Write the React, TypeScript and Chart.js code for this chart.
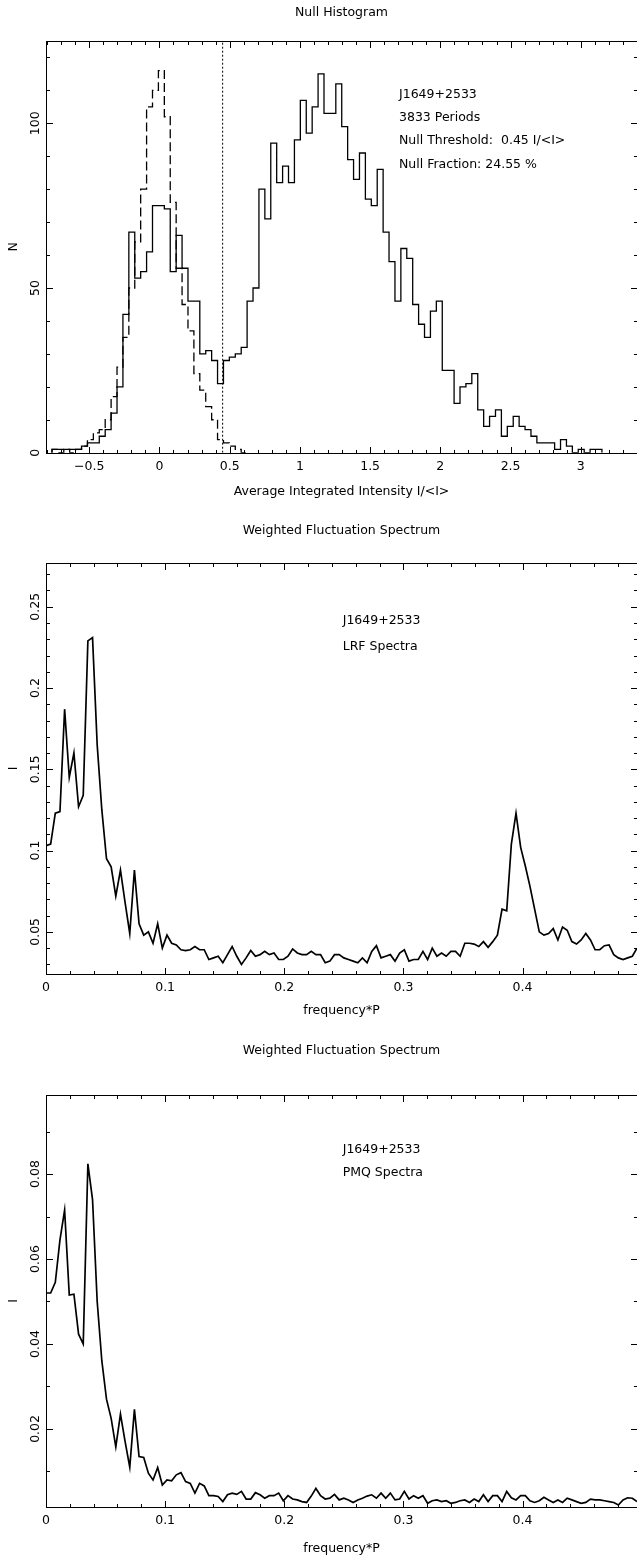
import { useEffect, useRef } from "react";
import { Chart, registerables } from "chart.js";

Chart.register(...registerables);

// ---------- Null histogram ----------
const HIST_START = -0.765;
const HIST_BIN = 0.0421;
const NULL_THRESHOLD = 0.45;
// on-pulse energy histogram (counts per bin)
const onCounts = [
  1, 1, 1, 1, 1, 2, 3, 3, 5, 7, 12, 20, 42, 67, 53, 55, 61, 75, 75, 74,
  55, 66, 56, 46, 46, 30, 31, 28, 21, 28, 29, 30, 32, 46, 50, 80, 71, 94, 82, 87,
  82, 95, 107, 97, 105, 115, 103, 103, 112, 99, 89, 83, 91, 77, 75, 86, 67, 58, 46, 62,
  59, 45, 39, 35, 43, 46, 25, 25, 15, 20, 21, 24, 13, 8, 11, 13, 5, 8, 11, 8,
  7, 5, 3, 3, 3, 1, 4, 2, 0, 1, 0, 1, 1,
];
// off-pulse energy histogram (counts per bin)
const offCounts = [
  1, 0, 1, 0, 1, 2, 4, 6, 7, 10, 17, 26, 35, 50, 64, 80, 105, 110, 116, 102,
  76, 56, 45, 37, 24, 19, 14, 10, 4, 3, 2, 1, 0,
];
const histXTicks = [-0.5, 0, 0.5, 1, 1.5, 2, 2.5, 3];
const histYTicks = [0, 50, 100];
const histNotes = ["J1649+2533", "3833 Periods", "Null Threshold:  0.45 I/<I>", "Null Fraction: 24.55 %"];

// ---------- Fluctuation spectra ----------
const FREQ_STEP = 1 / 256;
const lrfPower = [
  0.103, 0.104, 0.123, 0.124, 0.187, 0.145, 0.160, 0.127, 0.134, 0.229,
  0.231, 0.165, 0.125, 0.095, 0.090, 0.072, 0.088, 0.068, 0.049, 0.088,
  0.055, 0.048, 0.050, 0.043, 0.055, 0.040, 0.048, 0.043, 0.042, 0.039,
  0.0385, 0.039, 0.041, 0.039, 0.039, 0.033, 0.034, 0.035, 0.031, 0.036,
  0.041, 0.035, 0.030, 0.034, 0.0385, 0.035, 0.036, 0.038, 0.036, 0.037,
  0.033, 0.033, 0.035, 0.0395, 0.037, 0.036, 0.036, 0.038, 0.036, 0.036,
  0.031, 0.032, 0.036, 0.036, 0.034, 0.033, 0.032, 0.031, 0.034, 0.031,
  0.038, 0.0415, 0.034, 0.035, 0.036, 0.032, 0.037, 0.039, 0.032, 0.033,
  0.033, 0.038, 0.033, 0.040, 0.035, 0.037, 0.035, 0.038, 0.038, 0.035,
  0.043, 0.043, 0.0425, 0.041, 0.044, 0.0405, 0.044, 0.048, 0.064, 0.063,
  0.104, 0.123, 0.102, 0.0905, 0.078, 0.064, 0.050, 0.048, 0.049, 0.052,
  0.045, 0.053, 0.051, 0.044, 0.0425, 0.045, 0.049, 0.045, 0.039, 0.039,
  0.0415, 0.042, 0.036, 0.034, 0.033, 0.034, 0.035, 0.040,
];
const pmqPower = [
  0.052, 0.052, 0.0545, 0.0645, 0.0715, 0.0515, 0.0517, 0.0423, 0.040, 0.0824,
  0.074, 0.050, 0.036, 0.027, 0.0225, 0.0158, 0.0235, 0.017, 0.011, 0.0246,
  0.0135, 0.0133, 0.0096, 0.008, 0.0109, 0.0068, 0.008, 0.0078, 0.0092, 0.0097,
  0.0076, 0.0072, 0.0049, 0.0072, 0.0066, 0.0043, 0.0043, 0.0041, 0.0029, 0.0045,
  0.0049, 0.0046, 0.0053, 0.0035, 0.0035, 0.005, 0.0045, 0.0037, 0.0043, 0.0043,
  0.0049, 0.0031, 0.0043, 0.0035, 0.0033, 0.0029, 0.0027, 0.0042, 0.006, 0.0043,
  0.0035, 0.0037, 0.0046, 0.0033, 0.0037, 0.0033, 0.0027, 0.0033, 0.0037, 0.0042,
  0.0045, 0.0037, 0.0049, 0.0037, 0.0049, 0.0033, 0.0035, 0.0053, 0.0035, 0.0043,
  0.0037, 0.0043, 0.0025, 0.0031, 0.0033, 0.0029, 0.0031, 0.0025, 0.0027, 0.0031,
  0.0033, 0.0027, 0.0035, 0.0029, 0.0045, 0.0029, 0.0043, 0.0043, 0.0029, 0.0053,
  0.0038, 0.0033, 0.0043, 0.0043, 0.0031, 0.0027, 0.0031, 0.0039, 0.0033, 0.0027,
  0.0033, 0.0027, 0.0037, 0.0033, 0.0029, 0.0025, 0.0027, 0.0035, 0.0033, 0.0033,
  0.0031, 0.0029, 0.0027, 0.0021, 0.0033, 0.0038, 0.0037, 0.0029,
];
const freqTicks = [0, 0.1, 0.2, 0.3, 0.4];
const lrfYTicks = [0.05, 0.1, 0.15, 0.2, 0.25];
const pmqYTicks = [0.02, 0.04, 0.06, 0.08];
const lrfNotes = ["J1649+2533", "LRF Spectra"];
const pmqNotes = ["J1649+2533", "PMQ Spectra"];

const FONT = '12.5px "DejaVu Sans", sans-serif';
const PAGE_W = 637;

type Pt = { x: number; y: number };

function histogramPath(counts: number[]): Pt[] {
  const pts: Pt[] = [{ x: HIST_START, y: 0 }];
  counts.forEach((n, i) => pts.push({ x: HIST_START + i * HIST_BIN, y: n }));
  const end = HIST_START + counts.length * HIST_BIN;
  pts.push({ x: end, y: counts[counts.length - 1] });
  pts.push({ x: end, y: 0 });
  return pts;
}

function spectrumPath(values: number[]): Pt[] {
  return values.map((v, k) => ({ x: k * FREQ_STEP, y: v }));
}

function fmt(v: number): string {
  const s = String(Math.round(v * 1000) / 1000);
  return s.replace("-", "\u2212");
}

interface Panel {
  canvasTop: number;
  canvasHeight: number;
  area: { left: number; top: number; bottom: number }; // page coordinates
  x: { min: number; max: number; major: number; minor: number; labels: number[] };
  y: { min: number; max: number; major: number; minor: number; labels: number[] };
  title: string;
  titleY: number;
  xTitle: string;
  xTitleY: number;
  yTitle: string;
  notes: string[];
  notesX: number;
  notesY: number[];
  datasets: any[];
}

const panels: Panel[] = [
  {
    canvasTop: 0,
    canvasHeight: 515,
    area: { left: 46, top: 41, bottom: 452.7 },
    x: { min: -0.8075, max: 3.4, major: 0.5, minor: 0.1, labels: histXTicks },
    y: { min: 0, max: 125, major: 50, minor: 10, labels: histYTicks },
    title: "Null Histogram",
    titleY: 16,
    xTitle: "Average Integrated Intensity I/<I>",
    xTitleY: 495,
    yTitle: "N",
    notes: histNotes,
    notesX: 399,
    notesY: [97.7, 121, 144.3, 167.7],
    datasets: [
      {
        data: histogramPath(onCounts),
        stepped: true,
        borderColor: "#000",
        borderWidth: 1.3,
      },
      {
        data: histogramPath(offCounts),
        stepped: true,
        borderColor: "#000",
        borderWidth: 1.3,
        borderDash: [9, 4],
      },
      {
        data: [
          { x: NULL_THRESHOLD, y: 0 },
          { x: NULL_THRESHOLD, y: 125 },
        ],
        borderColor: "#000",
        borderWidth: 1,
        borderDash: [2, 2],
      },
    ],
  },
  {
    canvasTop: 515,
    canvasHeight: 520,
    area: { left: 46, top: 562.7, bottom: 974.3 },
    x: { min: 0, max: 127 * FREQ_STEP, major: 0.1, minor: 0.02, labels: freqTicks },
    y: { min: 0.0239, max: 0.2771, major: 0.05, minor: 0.01, labels: lrfYTicks },
    title: "Weighted Fluctuation Spectrum",
    titleY: 534,
    xTitle: "frequency*P",
    xTitleY: 1014,
    yTitle: "I",
    notes: lrfNotes,
    notesX: 342.7,
    notesY: [624.3, 650],
    datasets: [
      {
        data: spectrumPath(lrfPower),
        borderColor: "#000",
        borderWidth: 1.7,
      },
    ],
  },
  {
    canvasTop: 1035,
    canvasHeight: 526,
    area: { left: 46, top: 1095, bottom: 1506.7 },
    x: { min: 0, max: 127 * FREQ_STEP, major: 0.1, minor: 0.02, labels: freqTicks },
    y: { min: 0.0017, max: 0.0986, major: 0.02, minor: 0.01, labels: pmqYTicks },
    title: "Weighted Fluctuation Spectrum",
    titleY: 1054,
    xTitle: "frequency*P",
    xTitleY: 1552,
    yTitle: "I",
    notes: pmqNotes,
    notesX: 342.7,
    notesY: [1152.7, 1176],
    datasets: [
      {
        data: spectrumPath(pmqPower),
        borderColor: "#000",
        borderWidth: 1.7,
      },
    ],
  },
];

function tickValues(min: number, max: number, step: number): number[] {
  const out: number[] = [];
  for (let i = Math.ceil(min / step - 1e-9); i * step <= max + 1e-9; i++) out.push(i * step);
  return out;
}

function isMajor(v: number, major: number): boolean {
  const r = v / major;
  return Math.abs(r - Math.round(r)) < 1e-6;
}

function framePlugin(p: Panel) {
  return {
    id: "pgFrame",
    afterDraw(chart: any) {
      const { ctx, chartArea } = chart;
      const xs = chart.scales.x;
      const ys = chart.scales.y;
      const L = Math.round(chartArea.left) + 0.5;
      const R = Math.round(chartArea.right) + 0.5;
      const T = Math.round(chartArea.top) + 0.5;
      const B = Math.round(chartArea.bottom) + 0.5;
      const off = p.canvasTop;
      ctx.save();
      ctx.strokeStyle = "#000";
      ctx.lineWidth = 1;
      ctx.setLineDash([]);
      ctx.strokeRect(L, T, R - L, B - T);

      ctx.beginPath();
      for (const v of tickValues(p.x.min, p.x.max, p.x.minor)) {
        const px = Math.round(xs.getPixelForValue(v)) + 0.5;
        const len = isMajor(v, p.x.major) ? 6.5 : 3.5;
        ctx.moveTo(px, B);
        ctx.lineTo(px, B - len);
        ctx.moveTo(px, T);
        ctx.lineTo(px, T + len);
      }
      for (const v of tickValues(p.y.min, p.y.max, p.y.minor)) {
        const py = Math.round(ys.getPixelForValue(v)) + 0.5;
        const len = isMajor(v, p.y.major) ? 6.5 : 3.5;
        ctx.moveTo(L, py);
        ctx.lineTo(L + len, py);
        ctx.moveTo(R, py);
        ctx.lineTo(R - len, py);
      }
      ctx.stroke();

      ctx.fillStyle = "#000";
      ctx.font = FONT;
      // x tick labels
      ctx.textAlign = "center";
      ctx.textBaseline = "alphabetic";
      for (const v of p.x.labels) {
        ctx.fillText(fmt(v), xs.getPixelForValue(v), chartArea.bottom + 16.8);
      }
      // y tick labels, rotated
      for (const v of p.y.labels) {
        ctx.save();
        ctx.translate(39.3, ys.getPixelForValue(v));
        ctx.rotate(-Math.PI / 2);
        ctx.textAlign = "center";
        ctx.fillText(fmt(v), 0, 0);
        ctx.restore();
      }
      const midX = (chartArea.left + chartArea.right) / 2;
      ctx.fillText(p.title, midX, p.titleY - off);
      ctx.fillText(p.xTitle, midX, p.xTitleY - off);
      ctx.save();
      ctx.translate(17, (chartArea.top + chartArea.bottom) / 2);
      ctx.rotate(-Math.PI / 2);
      ctx.textAlign = "center";
      ctx.fillText(p.yTitle, 0, 0);
      ctx.restore();

      ctx.textAlign = "left";
      p.notes.forEach((line, i) => ctx.fillText(line, p.notesX, p.notesY[i] - off));
      ctx.restore();
    },
  };
}

function PanelChart({ panel }: { panel: Panel }) {
  const ref = useRef<HTMLCanvasElement | null>(null);
  useEffect(() => {
    if (!ref.current) return;
    const padTop = panel.area.top - panel.canvasTop;
    const padBottom = panel.canvasTop + panel.canvasHeight - panel.area.bottom;
    const chart = new Chart(ref.current, {
      type: "line",
      data: { datasets: panel.datasets.map((d) => ({ ...d, pointRadius: 0, fill: false, tension: 0 })) },
      options: {
        responsive: false,
        maintainAspectRatio: false,
        animation: false,
        events: [],
        parsing: false,
        layout: { padding: { left: panel.area.left, right: 0, top: padTop, bottom: padBottom } },
        plugins: { legend: { display: false }, tooltip: { enabled: false }, title: { display: false } },
        scales: {
          x: { type: "linear", min: panel.x.min, max: panel.x.max, display: false },
          y: { type: "linear", min: panel.y.min, max: panel.y.max, display: false },
        },
      } as any,
      plugins: [framePlugin(panel)],
    });
    return () => chart.destroy();
  }, [panel]);
  return (
    <canvas
      ref={ref}
      width={PAGE_W}
      height={panel.canvasHeight}
      style={{ display: "block", width: PAGE_W, height: panel.canvasHeight }}
    />
  );
}

export default function App() {
  return (
    <div style={{ position: "absolute", left: 0, top: 0, width: PAGE_W, background: "#fff" }}>
      {panels.map((p, i) => (
        <PanelChart key={i} panel={p} />
      ))}
    </div>
  );
}
